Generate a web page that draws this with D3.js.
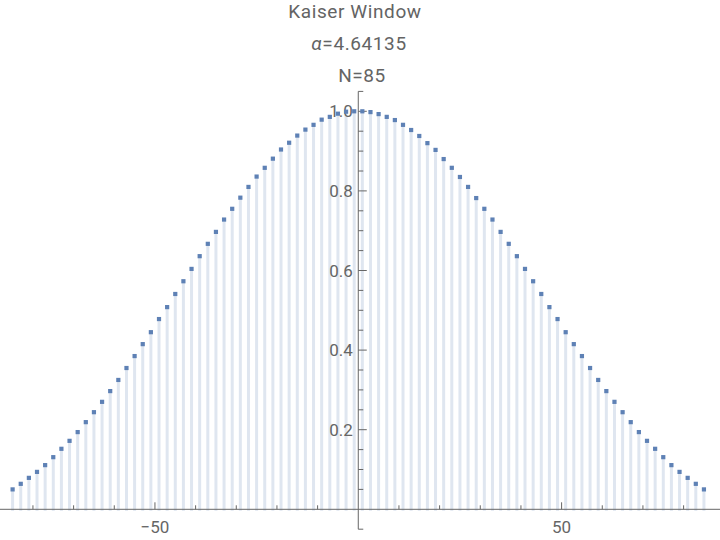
<!DOCTYPE html>
<html>
<head>
<meta charset="utf-8">
<script src="https://cdn.jsdelivr.net/npm/d3@7"></script>
<style>
  body { margin: 0; background: #fff; }
  svg { display: block; font-family: Roboto, "Noto Sans", sans-serif; }
</style>
</head>
<body>
<svg id="chart" width="720" height="540"></svg>
<script>
// Title lines
const titleLines = ["Kaiser Window", "α=4.64135", "N=85"];

// Sample positions: odd values from -85 to 85
const sampleX = d3.range(-85, 86, 2);

// Window values, left to right
const windowValues = [
  0.050, 0.064, 0.079, 0.094, 0.111, 0.131, 0.152, 0.172, 0.194, 0.219,
  0.244, 0.270, 0.297, 0.325, 0.355, 0.385, 0.415, 0.445, 0.478, 0.508,
  0.541, 0.573, 0.604, 0.636, 0.667, 0.697, 0.728, 0.755, 0.783, 0.810,
  0.836, 0.858, 0.881, 0.904, 0.921, 0.939, 0.954, 0.966, 0.979, 0.986,
  0.994, 0.999, 1.000,
  1.000, 0.998, 0.993, 0.986, 0.978, 0.966, 0.953, 0.938, 0.920, 0.903,
  0.880, 0.858, 0.835, 0.810, 0.782, 0.755, 0.728, 0.697, 0.667, 0.636,
  0.604, 0.573, 0.541, 0.508, 0.478, 0.445, 0.415, 0.385, 0.355, 0.325,
  0.297, 0.270, 0.244, 0.219, 0.194, 0.172, 0.152, 0.131, 0.111, 0.094,
  0.079, 0.064, 0.050
];

// Tick labels
const xTickLabels = [-50, 50];
const xMinorTicks = [-80, -70, -60, -40, -30, -20, -10, 10, 20, 30, 40, 60, 70, 80];
const yTickLabels = [0.2, 0.4, 0.6, 0.8, 1.0];

const width = 720;
const height = 540;
const axisColor = "#666666";
const pointColor = "#5e81b5";
const fillColor = "#dfe6f0";

const svg = d3.select("#chart");

const x = d3.scaleLinear()
  .domain([-88.1, 88.95])
  .range([0, width]);

const y = d3.scaleLinear()
  .domain([-0.05, 1.05])
  .range([529.2, 91.4]);

const data = sampleX.map((v, i) => ({ x: v, y: windowValues[i] }));

// Filling down to the axis
svg.append("g")
  .selectAll("line")
  .data(data)
  .join("line")
  .attr("x1", d => x(d.x))
  .attr("x2", d => x(d.x))
  .attr("y1", y(0) + 1.5)
  .attr("y2", d => y(d.y))
  .attr("stroke", fillColor)
  .attr("stroke-width", 3);

// x axis
const xAxis = svg.append("g").attr("stroke", axisColor).attr("stroke-width", 1);
xAxis.append("line")
  .attr("x1", 0).attr("x2", width)
  .attr("y1", y(0)).attr("y2", y(0));
xAxis.selectAll("line.minor")
  .data(xMinorTicks)
  .join("line")
  .attr("class", "minor")
  .attr("x1", d => x(d)).attr("x2", d => x(d))
  .attr("y1", y(0)).attr("y2", y(0) - 4);
xAxis.selectAll("line.major")
  .data(xTickLabels)
  .join("line")
  .attr("class", "major")
  .attr("x1", d => x(d)).attr("x2", d => x(d))
  .attr("y1", y(0)).attr("y2", y(0) - 7);

svg.append("g")
  .selectAll("text")
  .data(xTickLabels)
  .join("text")
  .attr("x", d => x(d))
  .attr("y", 533)
  .attr("text-anchor", "middle")
  .attr("fill", axisColor)
  .attr("font-size", 17)
  .text(d => d < 0 ? "\u2212" + Math.abs(d) : d);

// y axis
const yAxis = svg.append("g").attr("stroke", axisColor).attr("stroke-width", 1);
yAxis.append("line")
  .attr("x1", x(0)).attr("x2", x(0))
  .attr("y1", y(-0.05)).attr("y2", y(1.05));

const yMinor = d3.range(-1, 22)
  .map(k => +(k * 0.05).toFixed(2))
  .filter(v => v !== 0 && !yTickLabels.includes(v));

yAxis.selectAll("line.minor")
  .data(yMinor)
  .join("line")
  .attr("class", "minor")
  .attr("x1", x(0)).attr("x2", x(0) + 5)
  .attr("y1", d => y(d)).attr("y2", d => y(d));
yAxis.selectAll("line.major")
  .data(yTickLabels)
  .join("line")
  .attr("class", "major")
  .attr("x1", x(0)).attr("x2", x(0) + 8.5)
  .attr("y1", d => y(d)).attr("y2", d => y(d));

svg.append("g")
  .selectAll("text")
  .data(yTickLabels)
  .join("text")
  .attr("x", x(0) - 5.5)
  .attr("y", d => y(d))
  .attr("dy", "0.36em")
  .attr("text-anchor", "end")
  .attr("fill", axisColor)
  .attr("font-size", 17)
  .text(d => d3.format(".1f")(d));

// Points
svg.append("g")
  .selectAll("rect")
  .data(data)
  .join("rect")
  .attr("x", d => x(d.x) - 2.1)
  .attr("y", d => y(d.y) - 2.1)
  .attr("width", 4.2)
  .attr("height", 4.2)
  .attr("fill", pointColor);

// Title
const title = svg.append("g")
  .attr("fill", "#646464")
  .attr("font-size", 19)
  .attr("letter-spacing", "0.6px")
  .attr("text-anchor", "middle");

title.append("text")
  .attr("x", 355)
  .attr("y", 17.5)
  .text(titleLines[0]);

const alphaLine = title.append("text")
  .attr("x", 359)
  .attr("y", 50);
alphaLine.append("tspan")
  .attr("font-style", "italic")
  .text(titleLines[1].slice(0, 1));
alphaLine.append("tspan")
  .text(titleLines[1].slice(1));

title.append("text")
  .attr("x", 362)
  .attr("y", 81.5)
  .text(titleLines[2]);
</script>
</body>
</html>
